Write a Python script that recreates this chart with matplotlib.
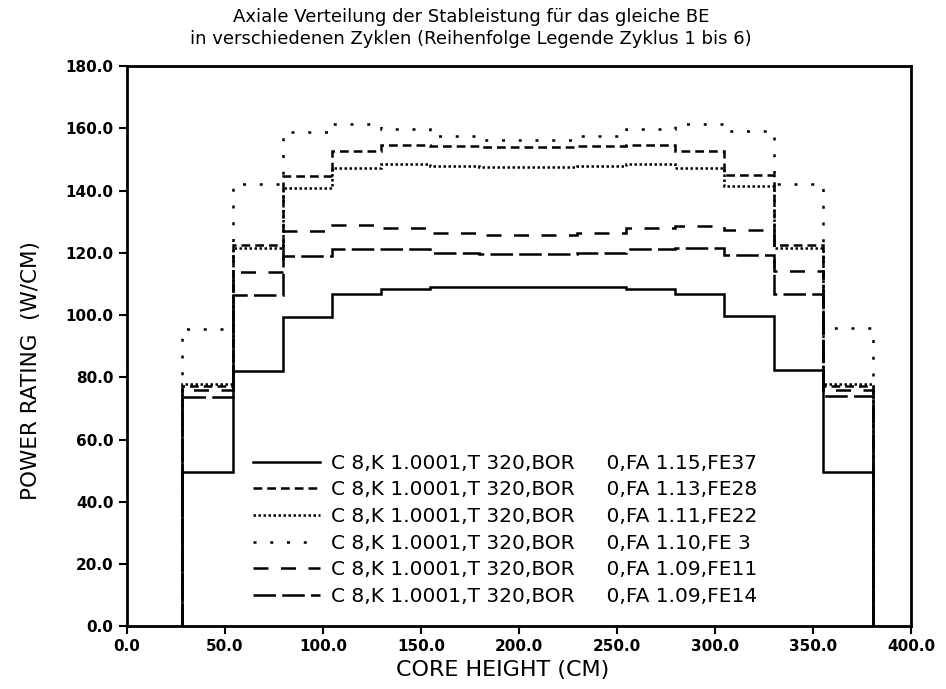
import matplotlib.pyplot as plt

# Zonengrenzen (cm) und Stableistung je Zone (W/cm)
edges = [28.4, 54.0, 79.5, 104.8, 129.9, 154.7, 179.5, 204.5, 229.6, 254.7, 279.5, 304.6, 330.0, 355.1, 380.4]

fe37 = [49.6, 82.1, 99.4, 106.9, 108.3, 108.9, 108.9, 108.9, 108.9, 108.3, 106.9, 99.6, 82.3, 49.6]
fe28 = [77.3, 122.5, 144.6, 152.8, 154.8, 154.4, 154.1, 154.1, 154.4, 154.8, 152.8, 145.0, 122.4, 77.3]
fe22 = [78.0, 121.7, 141.0, 147.4, 148.7, 148.0, 147.7, 147.7, 148.0, 148.7, 147.4, 141.4, 121.5, 78.0]
fe03 = [95.4, 142.0, 158.9, 161.4, 159.7, 157.7, 156.4, 156.4, 157.7, 159.7, 161.4, 159.2, 142.1, 95.7]
fe11 = [75.9, 113.9, 127.0, 128.9, 128.1, 126.4, 125.7, 125.7, 126.4, 128.1, 128.7, 127.3, 114.2, 76.0]
fe14 = [73.8, 106.6, 119.0, 121.4, 121.3, 120.0, 119.5, 119.5, 120.0, 121.3, 121.5, 119.3, 106.9, 73.9]

labels = [
    'C 8,K 1.0001,T 320,BOR     0,FA 1.15,FE37',
    'C 8,K 1.0001,T 320,BOR     0,FA 1.13,FE28',
    'C 8,K 1.0001,T 320,BOR     0,FA 1.11,FE22',
    'C 8,K 1.0001,T 320,BOR     0,FA 1.10,FE 3',
    'C 8,K 1.0001,T 320,BOR     0,FA 1.09,FE11',
    'C 8,K 1.0001,T 320,BOR     0,FA 1.09,FE14',
]

series = [fe37, fe28, fe22, fe03, fe11, fe14]
styles = ['-', (0, (3.5, 2)), (0, (1, 1)), (0, (1.2, 5.5)), (0, (6, 5)), (0, (9, 2.5))]

fig = plt.figure(figsize=(9.46, 6.89), dpi=100)
ax = fig.add_axes([0.134, 0.091, 0.829, 0.813])

for vals, ls, lab in zip(series, styles, labels):
    ax.stairs(vals, edges, baseline=0, color='black', linewidth=1.8, linestyle=ls, label=lab)

ax.set_xlim(0, 400)
ax.set_ylim(0, 180)
ax.set_xticks(range(0, 401, 50))
ax.set_yticks(range(0, 181, 20))
ax.set_xticklabels([f'{v:.1f}' for v in range(0, 401, 50)], fontweight='bold', fontsize=11)
ax.set_yticklabels([f'{v:.1f}' for v in range(0, 181, 20)], fontweight='bold', fontsize=11)
ax.tick_params(direction='out', length=6, width=1.5)
for s in ax.spines.values():
    s.set_linewidth(2)

ax.set_xlabel('CORE HEIGHT (CM)', fontsize=16)
ax.set_ylabel('POWER RATING  (W/CM)', fontsize=15.5)
ax.xaxis.set_label_coords(0.479, -0.06)
ax.yaxis.set_label_coords(-0.109, 0.457)
fig.text(0.498, 0.988, 'Axiale Verteilung der Stableistung für das gleiche BE\n'
         'in verschiedenen Zyklen (Reihenfolge Legende Zyklus 1 bis 6)',
         fontsize=13, linespacing=1.25, ha='center', va='top')

ax.legend(loc='lower left', bbox_to_anchor=(0.138, 0.004), frameon=False,
          fontsize=14.5, handlelength=3.3, handletextpad=0.55, labelspacing=0.38)

plt.savefig('out.png')
